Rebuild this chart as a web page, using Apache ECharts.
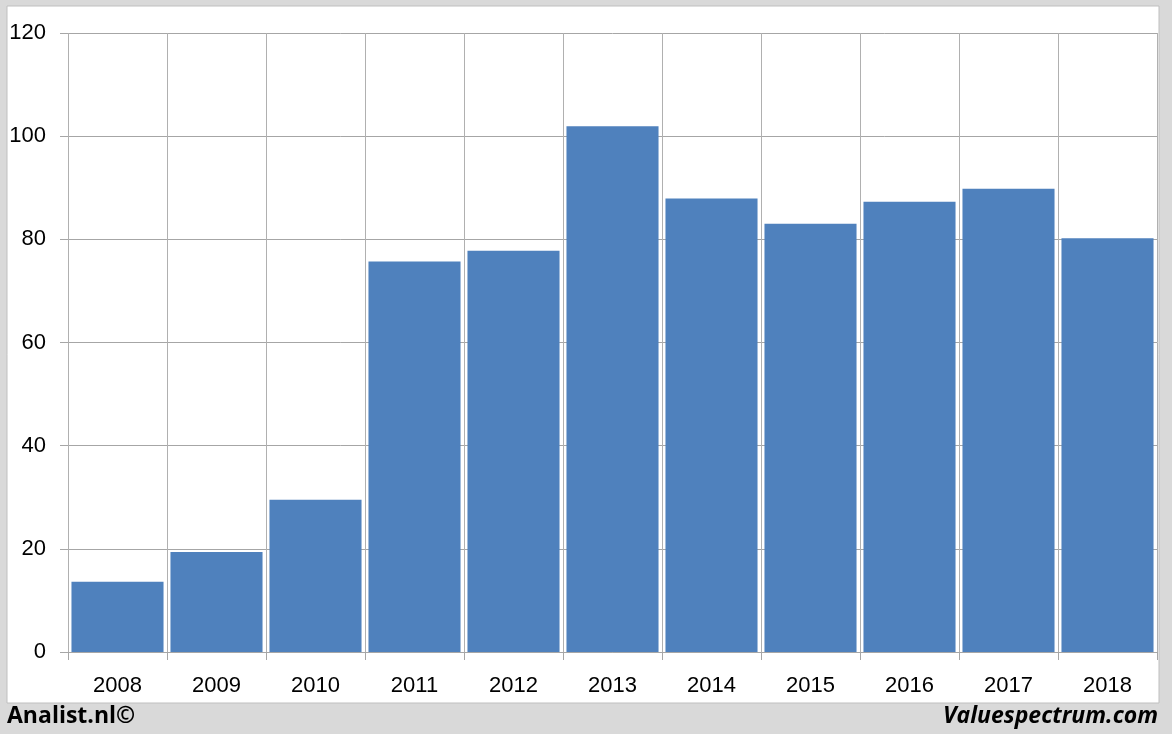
<!DOCTYPE html>
<html><head><meta charset="utf-8">
<script src="https://cdn.jsdelivr.net/npm/echarts@6/dist/echarts.min.js"></script>
<style>html,body{margin:0;padding:0;background:#d9d9d9}#c{width:1172px;height:734px}</style>
</head><body><div id="c"></div>
<script>
const categories = ['2008','2009','2010','2011','2012','2013','2014','2015','2016','2017','2018'];
const values = [13.6, 19.4, 29.5, 75.7, 77.8, 101.9, 87.9, 83.0, 87.3, 89.8, 80.2];
const yTicks = [0, 20, 40, 60, 80, 100, 120];

const chart = echarts.init(document.getElementById('c'));
chart.setOption({
  animation: false,
  backgroundColor: '#d9d9d9',
  graphic: [
    {type:'rect', shape:{x:7,y:6,width:1152,height:697}, style:{fill:'#ffffff', stroke:'#bfbfbf', lineWidth:1}, z:-10},
    {type:'text', left:7, top:705, style:{text:'Analist.nl©', font:'bold 23px "Open Sans", "Liberation Sans", sans-serif', fill:'#000'}},
    {type:'text', right:14, top:705, style:{text:'Valuespectrum.com', font:'italic bold 23px "Open Sans", "Liberation Sans", sans-serif', fill:'#000'}}
  ],
  grid: {left:68, right:15, top:33, bottom:82, containLabel:false},
  xAxis: {
    type:'category', data: categories, boundaryGap:true,
    axisLine:{show:true, lineStyle:{color:'#a6a6a6', width:1}},
    axisTick:{show:true, length:8, alignWithLabel:false, lineStyle:{color:'#a6a6a6'}},
    axisLabel:{color:'#000', fontSize:22, margin:23, fontFamily:'"Liberation Sans", sans-serif', interval:0},
    splitLine:{show:true, interval:0, lineStyle:{color:'#b0b0b0', width:1}}
  },
  yAxis: {
    type:'value', min:0, max:120, interval:20,
    axisLine:{show:false},
    axisTick:{show:true, length:8, lineStyle:{color:'#a6a6a6'}},
    axisLabel:{color:'#000', fontSize:22, margin:22, fontFamily:'"Liberation Sans", sans-serif',
      formatter: v => yTicks.includes(v) ? String(v) : ''},
    splitLine:{show:true, lineStyle:{color:'#a6a6a6', width:1}}
  },
  series: [{
    type:'bar', data: values, barCategoryGap:'7%',
    itemStyle:{color:'#4f81bd'}
  }]
});
</script></body></html>
